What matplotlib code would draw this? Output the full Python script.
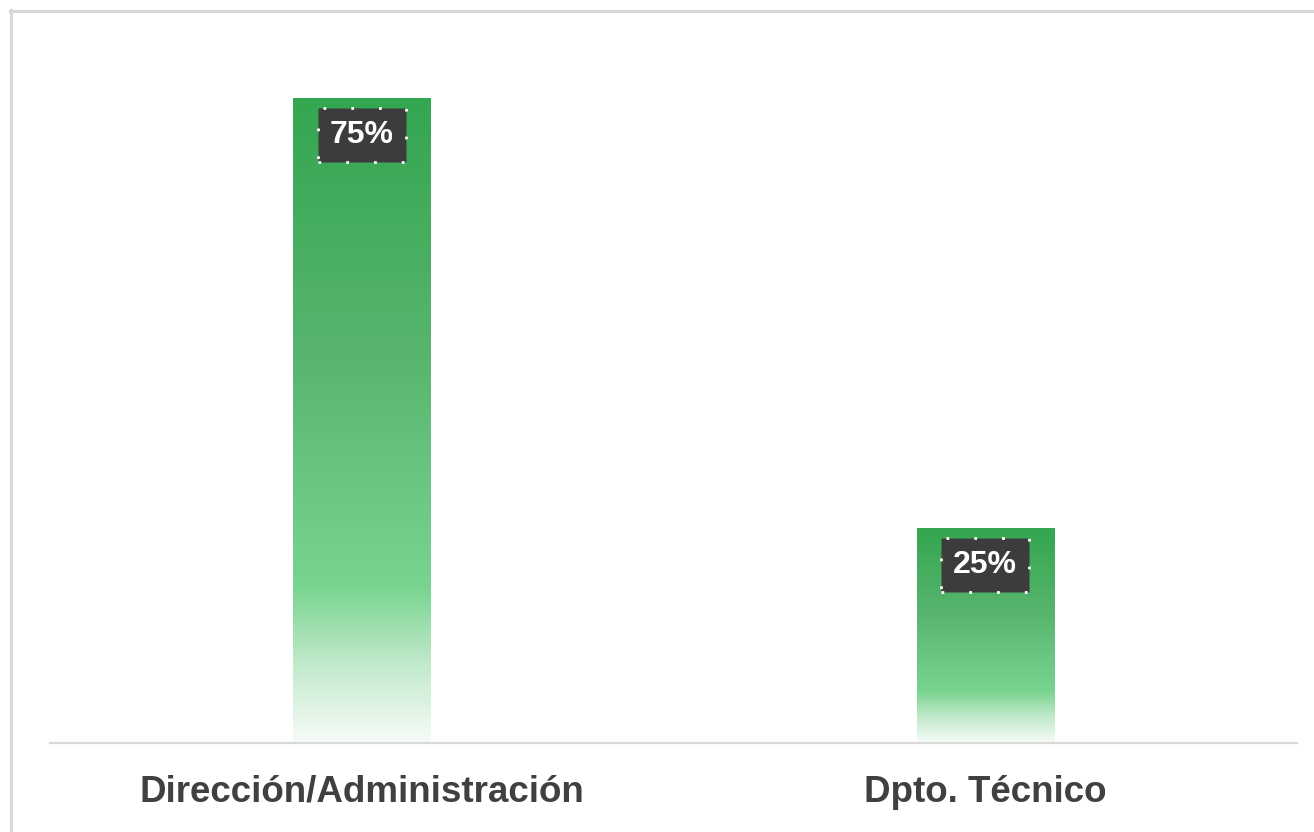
import numpy as np
import matplotlib
matplotlib.use("Agg")
import matplotlib.pyplot as plt
from matplotlib.colors import LinearSegmentedColormap
from matplotlib.lines import Line2D

categories = ["Dirección/Administración", "Dpto. Técnico"]
values = [0.75, 0.25]
labels = ["75%", "25%"]

W, H = 1314, 832
fig = plt.figure(figsize=(W / 100, H / 100), dpi=100)
fig.patch.set_facecolor("white")

# outer frame (only top and left edges visible)
fig.add_artist(Line2D([10 / W, 1], [1 - 11 / H, 1 - 11 / H], color="#d9d9d9", lw=2.2))
fig.add_artist(Line2D([11 / W, 11 / W], [0, 1 - 10 / H], color="#d9d9d9", lw=2.2))

ax = fig.add_axes([50 / W, 1 - 743 / H, (1297 - 50) / W, 688 / H])
ax.set_xlim(-0.5, len(categories) - 0.5)
ax.set_ylim(0, 0.8)

cmap = LinearSegmentedColormap.from_list(
    "g",
    [(0.0, "#34a650"), (0.40, "#58b56e"), (0.76, "#79d490"),
     (0.88, "#c2eacc"), (1.0, "#f6fbf7")],
)
grad = np.linspace(0, 1, 256).reshape(-1, 1)

bw = 0.22
bars = ax.bar(range(len(categories)), values, width=bw, color="none", edgecolor="none")
for b in bars:
    x0 = b.get_x()
    h = b.get_height()
    im = ax.imshow(grad, cmap=cmap, aspect="auto", extent=[x0, x0 + bw, 0, h],
                   origin="upper", zorder=1, interpolation="bilinear")
    im.set_clip_path(b)

ax.set_xlim(-0.5, len(categories) - 0.5)
ax.set_ylim(0, 0.8)

for i, (v, lab) in enumerate(zip(values, labels)):
    ax.annotate(lab, xy=(i, v), xytext=(0, -37), textcoords="offset pixels",
                ha="center", va="center", color="white", fontsize=23,
                fontweight="bold", family="Liberation Sans", zorder=5,
                bbox=dict(boxstyle="square,pad=0.38", fc="#3c3c3c", ec="white",
                          ls=(0, (1, 9)), lw=2.0))

for s in ["top", "right", "left"]:
    ax.spines[s].set_visible(False)
ax.spines["bottom"].set_color("#d9d9d9")
ax.spines["bottom"].set_linewidth(1.6)
ax.set_yticks([])
ax.set_xticks(range(len(categories)))
ax.set_xticklabels(categories, fontsize=26.5, fontweight="bold", color="#404040",
                   family="Liberation Sans")
ax.tick_params(axis="x", length=0, pad=23)
ax.set_facecolor("none")

fig.savefig("out.png", dpi=100)
